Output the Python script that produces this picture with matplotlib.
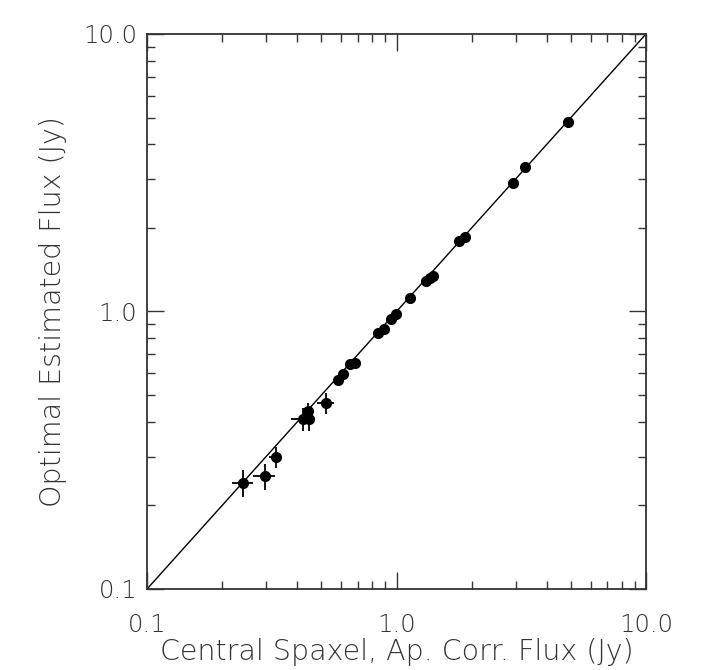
import numpy as np
import matplotlib.pyplot as plt
from matplotlib.ticker import FixedLocator, FixedFormatter, LogLocator, NullFormatter

# central spaxel (aperture corrected) vs optimal estimated flux, Jy
x = [0.243, 0.297, 0.329, 0.422, 0.446, 0.441, 0.521, 0.583, 0.611, 0.652, 0.682,
     0.844, 0.892, 0.951, 0.995, 1.13, 1.31, 1.36, 1.40, 1.78, 1.88, 2.93, 3.27, 4.86]
y = [0.241, 0.255, 0.299, 0.410, 0.410, 0.438, 0.468, 0.566, 0.596, 0.647, 0.652,
     0.838, 0.865, 0.940, 0.979, 1.12, 1.29, 1.32, 1.34, 1.79, 1.85, 2.90, 3.32, 4.82]
xerr = [0.023, 0.030, 0.020, 0.045, 0.020, 0.020, 0.040, 0.015, 0.015, 0.015, 0.015,
        0.015, 0.015, 0.015, 0.015, 0.02, 0.02, 0.02, 0.02, 0.02, 0.02, 0.03, 0.03, 0.04]
yerr = [0.027, 0.028, 0.027, 0.040, 0.040, 0.030, 0.040, 0.015, 0.015, 0.015, 0.015,
        0.015, 0.015, 0.015, 0.015, 0.02, 0.02, 0.02, 0.02, 0.02, 0.02, 0.03, 0.03, 0.04]

ticks = [0.1, 1.0, 10.0]
tick_labels = ['0.1', '1.0', '10.0']

plt.rcParams['font.family'] = ['DejaVu Sans']
fig = plt.figure(figsize=(7.11, 6.70), dpi=100)
ax = fig.add_axes([0.2068, 0.1209, 0.7018, 0.8284])

ax.plot([0.1, 10], [0.1, 10], color='black', lw=1.0)
ax.errorbar(x, y, xerr=xerr, yerr=yerr, fmt='o', color='black', ms=7,
            elinewidth=1.3, capsize=0)

ax.set_xscale('log'); ax.set_yscale('log')
ax.set_xlim(0.1, 10); ax.set_ylim(0.1, 10)
for a in (ax.xaxis, ax.yaxis):
    a.set_major_locator(FixedLocator(ticks))
    a.set_major_formatter(FixedFormatter(tick_labels))
    a.set_minor_locator(LogLocator(base=10, subs=np.arange(2, 10)))
    a.set_minor_formatter(NullFormatter())

txt = dict(color='#333333', fontsize=20.5, fontweight='light')
ax.tick_params(which='both', direction='in', top=True, right=True, width=1.0, color='#333333')
ax.tick_params(which='major', length=12)
ax.tick_params(which='minor', length=6)
ax.tick_params(axis='x', pad=17, labelsize=17.5, labelcolor='#333333')
ax.tick_params(axis='y', pad=7, labelsize=17.5, labelcolor='#333333')
for lbl in ax.get_xticklabels() + ax.get_yticklabels():
    lbl.set_fontweight('light')
for s in ax.spines.values():
    s.set_linewidth(1.3); s.set_color('#333333')

ax.set_xlabel('Central Spaxel, Ap. Corr. Flux (Jy)', labelpad=1, **txt)
ax.set_ylabel('Optimal Estimated Flux (Jy)', labelpad=12, **txt)

fig.savefig('out.png', dpi=100)
